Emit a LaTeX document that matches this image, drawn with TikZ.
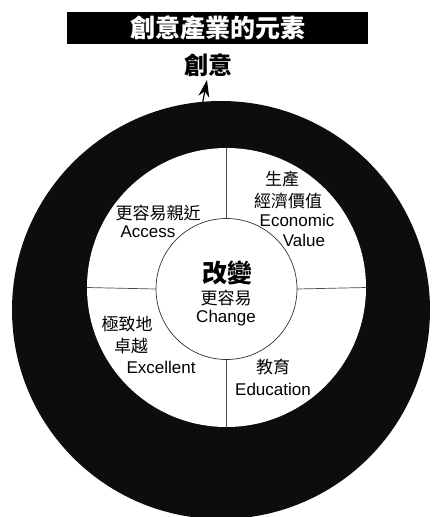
\documentclass[tikz,border=0pt]{standalone}
\usepackage{fontspec}
\setmainfont{Liberation Sans}
\newfontfamily\cjk{Noto Sans CJK TC}
\usetikzlibrary{arrows.meta}
\tikzset{
  lbl/.style={inner sep=0pt, font=\fontsize{17}{20}\selectfont, text=black},
  cj/.style={inner sep=0pt, font=\cjk\fontsize{17}{20}\selectfont, text=black},
  divider/.style={draw=black!70, line width=0.7pt},
}
\begin{document}
\begin{tikzpicture}[x=1pt,y=-1pt]
\useasboundingbox (0,0) rectangle (432,517);
\begin{scope}
\clip (0,0) rectangle (432,517);
% title
\node[fill=black, minimum width=301pt, minimum height=32pt, inner sep=0pt, text=white,
      font=\cjk\bfseries\fontsize{25}{28}\selectfont] (title) at (217.5,28) {創意產業的元素};
\node[inner sep=0pt, font=\cjk\bfseries\fontsize{24}{26}\selectfont] (creat) at (208,65) {創意};
% rings
\node[circle, fill=black!95, minimum size=418pt, inner sep=0pt, outer sep=0pt] (outer) at (221,310) {};
\node[circle, fill=white, minimum size=279pt, inner sep=0pt, outer sep=0pt] (white) at (226.5,287.5) {};
\node[circle, draw=black!80, line width=0.7pt, fill=white, minimum size=141pt, inner sep=0pt, outer sep=0pt] (core) at (226.5,289) {};
\end{scope}
% arrow
\coordinate (tip) at (207,80);
\draw[line width=1.2pt, -{Stealth[length=17pt,width=11pt]}] (outer.95) -- (tip);
% dividers
\draw[divider] (white.north) -- (core.north);
\draw[divider] (core.south) -- (white.south);
\draw[divider] (white.west) -- (core.west);
\draw[divider] (core.east) -- (white.east);
% center texts
\node[inner sep=0pt, font=\cjk\bfseries\fontsize{25}{28}\selectfont] (chg) at (227,273) {改變};
\node[cj] (chg2) at (226,298) {更容易};
\node[lbl] (chg3) at (226,318) {Change};
% top-left
\node[cj] (acc1) at (158,213) {更容易親近};
\node[lbl] (acc2) at (148,232) {Access};
% top-right
\node[cj] (eco1) at (282,179) {生產};
\node[cj] (eco2) at (288,201) {經濟價值};
\node[lbl] (eco3) at (297,220) {Economic};
\node[lbl] (eco4) at (304,240) {Value};
% bottom-left
\node[cj] (exc1) at (127,324) {極致地};
\node[cj] (exc2) at (131,346) {卓越};
\node[lbl] (exc3) at (161,367) {Excellent};
% bottom-right
\node[cj] (edu1) at (273,367) {教育};
\node[lbl] (edu2) at (273,389) {Education};
\end{tikzpicture}
\end{document}
